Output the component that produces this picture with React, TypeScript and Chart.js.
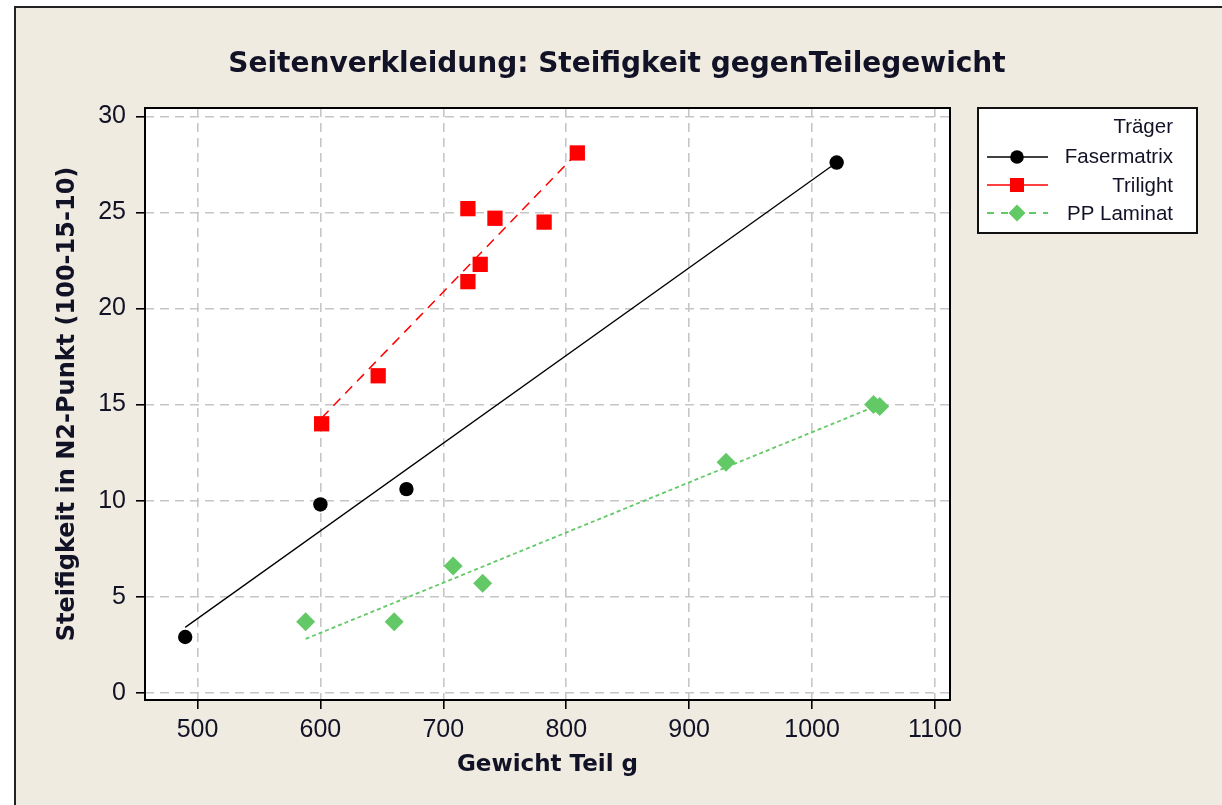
import React, { useEffect, useRef } from 'react';
import { Chart, registerables } from 'chart.js';

Chart.register(...registerables);

const TITLE = 'Seitenverkleidung: Steifigkeit gegenTeilegewicht';
const X_TITLE = 'Gewicht Teil g';
const Y_TITLE = 'Steifigkeit in N2-Punkt (100-15-10)';
const LEGEND_TITLE = 'Träger';
const SERIES_NAMES = ['Fasermatrix', 'Trilight', 'PP Laminat'];

const X_TICKS = [500, 600, 700, 800, 900, 1000, 1100];
const Y_TICKS = [0, 5, 10, 15, 20, 25, 30];

// measured points
const FASER_X = [490, 600, 670, 1020];
const FASER_Y = [2.9, 9.8, 10.6, 27.6];
const TRI_X = [601, 647, 720, 720, 730, 742, 782, 809];
const TRI_Y = [14.0, 16.5, 25.2, 21.4, 22.3, 24.7, 24.5, 28.1];
const PP_X = [588, 660, 708, 732, 930, 1050, 1055];
const PP_Y = [3.7, 3.7, 6.6, 5.7, 12.0, 15.0, 14.9];

// fitted lines (end points)
const FASER_FIT_X = [490, 1020];
const FASER_FIT_Y = [3.4, 27.6];
const TRI_FIT_X = [601, 809];
const TRI_FIT_Y = [14.3, 28.1];
const PP_FIT_X = [588, 1055];
const PP_FIT_Y = [2.8, 15.0];

const toPts = (xs: number[], ys: number[]) => xs.map((x, i) => ({ x, y: ys[i] }));

const TEXT = '#121226';
const GREEN = '#62C966';
const RED = '#FF0000';
const BLACK = '#000000';

const decorPlugin = {
  id: 'decor',
  beforeDraw(chart: any) {
    const { ctx, chartArea: a } = chart;
    ctx.save();
    ctx.fillStyle = '#ffffff';
    ctx.fillRect(a.left, a.top, a.right - a.left, a.bottom - a.top);
    ctx.restore();
  },
  afterDraw(chart: any) {
    const { ctx, chartArea: a } = chart;
    ctx.save();
    // plot frame
    ctx.strokeStyle = '#000';
    ctx.lineWidth = 2;
    ctx.setLineDash([]);
    ctx.strokeRect(a.left, a.top, a.right - a.left, a.bottom - a.top);

    // title
    ctx.fillStyle = TEXT;
    ctx.font = 'bold 28px "DejaVu Sans"';
    ctx.textAlign = 'center';
    ctx.textBaseline = 'alphabetic';
    ctx.fillText(TITLE, 617, 72);

    // legend
    const bx = 978, by = 108, bw = 219, bh = 125;
    ctx.fillStyle = '#fff';
    ctx.fillRect(bx, by, bw, bh);
    ctx.strokeStyle = '#111';
    ctx.lineWidth = 2;
    ctx.strokeRect(bx, by, bw, bh);

    ctx.font = '20.5px "Liberation Sans"';
    ctx.textAlign = 'right';
    ctx.fillStyle = TEXT;
    ctx.fillText(LEGEND_TITLE, 1173, 133);

    const rows = [
      { y: 157, base: 163, color: BLACK, dash: [] as number[], shape: 'circle', lw: 1.5 },
      { y: 185, base: 192, color: RED, dash: [] as number[], shape: 'rect', lw: 1.5 },
      { y: 213, base: 220, color: GREEN, dash: [7, 7], shape: 'diamond', lw: 1.8 },
    ];
    rows.forEach((r, i) => {
      ctx.strokeStyle = r.color;
      ctx.lineWidth = r.lw;
      ctx.setLineDash(r.dash);
      ctx.beginPath();
      ctx.moveTo(987, r.y);
      ctx.lineTo(1048, r.y);
      ctx.stroke();
      ctx.setLineDash([]);
      ctx.fillStyle = r.color;
      const cx = 1017;
      ctx.beginPath();
      if (r.shape === 'circle') {
        ctx.arc(cx, r.y, 6.8, 0, Math.PI * 2);
      } else if (r.shape === 'rect') {
        ctx.rect(cx - 7, r.y - 7, 14, 14);
      } else {
        ctx.moveTo(cx, r.y - 8.5);
        ctx.lineTo(cx + 8.5, r.y);
        ctx.lineTo(cx, r.y + 8.5);
        ctx.lineTo(cx - 8.5, r.y);
        ctx.closePath();
      }
      ctx.fill();
      ctx.fillStyle = TEXT;
      ctx.fillText(SERIES_NAMES[i], 1173, r.base);
    });
    ctx.restore();
  },
};

export default function App() {
  const ref = useRef<HTMLCanvasElement | null>(null);

  useEffect(() => {
    if (!ref.current) return;
    const gridCommon = {
      color: '#c6c6c6',
      lineWidth: 1.6,
      drawTicks: true,
      tickLength: 9,
      tickColor: '#000',
      tickWidth: 1.6,
      tickBorderDash: [],
    };
    const chart = new Chart(ref.current, {
      type: 'scatter',
      data: {
        datasets: [
          {
            label: SERIES_NAMES[0],
            data: toPts(FASER_X, FASER_Y),
            showLine: false,
            pointStyle: 'circle',
            pointRadius: 7.2,
            pointBorderWidth: 0,
            backgroundColor: BLACK,
            borderColor: BLACK,
          },
          {
            label: SERIES_NAMES[1],
            data: toPts(TRI_X, TRI_Y),
            showLine: false,
            pointStyle: 'rect',
            pointRadius: 10.8,
            pointBorderWidth: 0,
            backgroundColor: RED,
            borderColor: RED,
          },
          {
            label: SERIES_NAMES[2],
            data: toPts(PP_X, PP_Y),
            showLine: false,
            pointStyle: 'rectRot',
            pointRadius: 9.5,
            pointBorderWidth: 0,
            backgroundColor: GREEN,
            borderColor: GREEN,
          },
          {
            label: 'fit1',
            data: toPts(FASER_FIT_X, FASER_FIT_Y),
            showLine: true,
            pointRadius: 0,
            borderColor: BLACK,
            borderWidth: 1.3,
          },
          {
            label: 'fit2',
            data: toPts(TRI_FIT_X, TRI_FIT_Y),
            showLine: true,
            pointRadius: 0,
            borderColor: RED,
            borderWidth: 1.5,
            borderDash: [10, 7],
          },
          {
            label: 'fit3',
            data: toPts(PP_FIT_X, PP_FIT_Y),
            showLine: true,
            pointRadius: 0,
            borderColor: GREEN,
            borderWidth: 1.8,
            borderDash: [4, 3],
          },
        ],
      },
      options: {
        animation: false,
        responsive: false,
        devicePixelRatio: 1,
        layout: { padding: { top: 108, right: 272, bottom: 0, left: 0 } },
        plugins: {
          legend: { display: false },
          tooltip: { enabled: false },
          title: { display: false },
        },
        scales: {
          x: {
            type: 'linear',
            min: 457.3,
            max: 1112.2,
            afterBuildTicks: (s: any) => {
              s.ticks = X_TICKS.map((v) => ({ value: v }));
            },
            afterFit: (s: any) => {
              s.height = 105;
            },
            grid: gridCommon,
            border: { display: false, dash: [9, 6] },
            ticks: {
              autoSkip: false,
              maxRotation: 0,
              padding: 6,
              color: TEXT,
              font: { family: '"Liberation Sans"', size: 25 },
              callback: (v: any) => String(v),
            },
            title: {
              display: true,
              text: X_TITLE,
              color: TEXT,
              font: { family: '"DejaVu Sans"', size: 23, weight: 'bold' },
              padding: { top: 0, bottom: 26 },
            },
          },
          y: {
            type: 'linear',
            min: -0.38,
            max: 30.44,
            afterBuildTicks: (s: any) => {
              s.ticks = Y_TICKS.map((v) => ({ value: v }));
            },
            afterFit: (s: any) => {
              s.width = 145;
            },
            grid: gridCommon,
            border: { display: false, dash: [9, 6] },
            ticks: {
              autoSkip: false,
              padding: 10,
              color: TEXT,
              font: { family: '"Liberation Sans"', size: 25 },
              callback: (v: any) => String(v),
            },
            title: {
              display: true,
              text: Y_TITLE,
              color: TEXT,
              font: { family: '"DejaVu Sans"', size: 24, weight: 'bold' },
              padding: { top: 53, bottom: 0 },
            },
          },
        },
      },
      plugins: [decorPlugin],
    } as any);
    return () => chart.destroy();
  }, []);

  return (
    <div
      style={{
        position: 'fixed',
        left: 0,
        top: 0,
        width: 1222,
        height: 805,
        background: '#ffffff',
        overflow: 'hidden',
      }}
    >
      <div
        style={{
          position: 'absolute',
          left: 14,
          top: 6,
          width: 1240,
          height: 840,
          background: '#EFEBE1',
          borderLeft: '2px solid #222',
          borderTop: '2px solid #222',
        }}
      />
      <canvas
        ref={ref}
        width={1222}
        height={805}
        style={{ position: 'absolute', left: 0, top: 0, width: 1222, height: 805 }}
      />
    </div>
  );
}
